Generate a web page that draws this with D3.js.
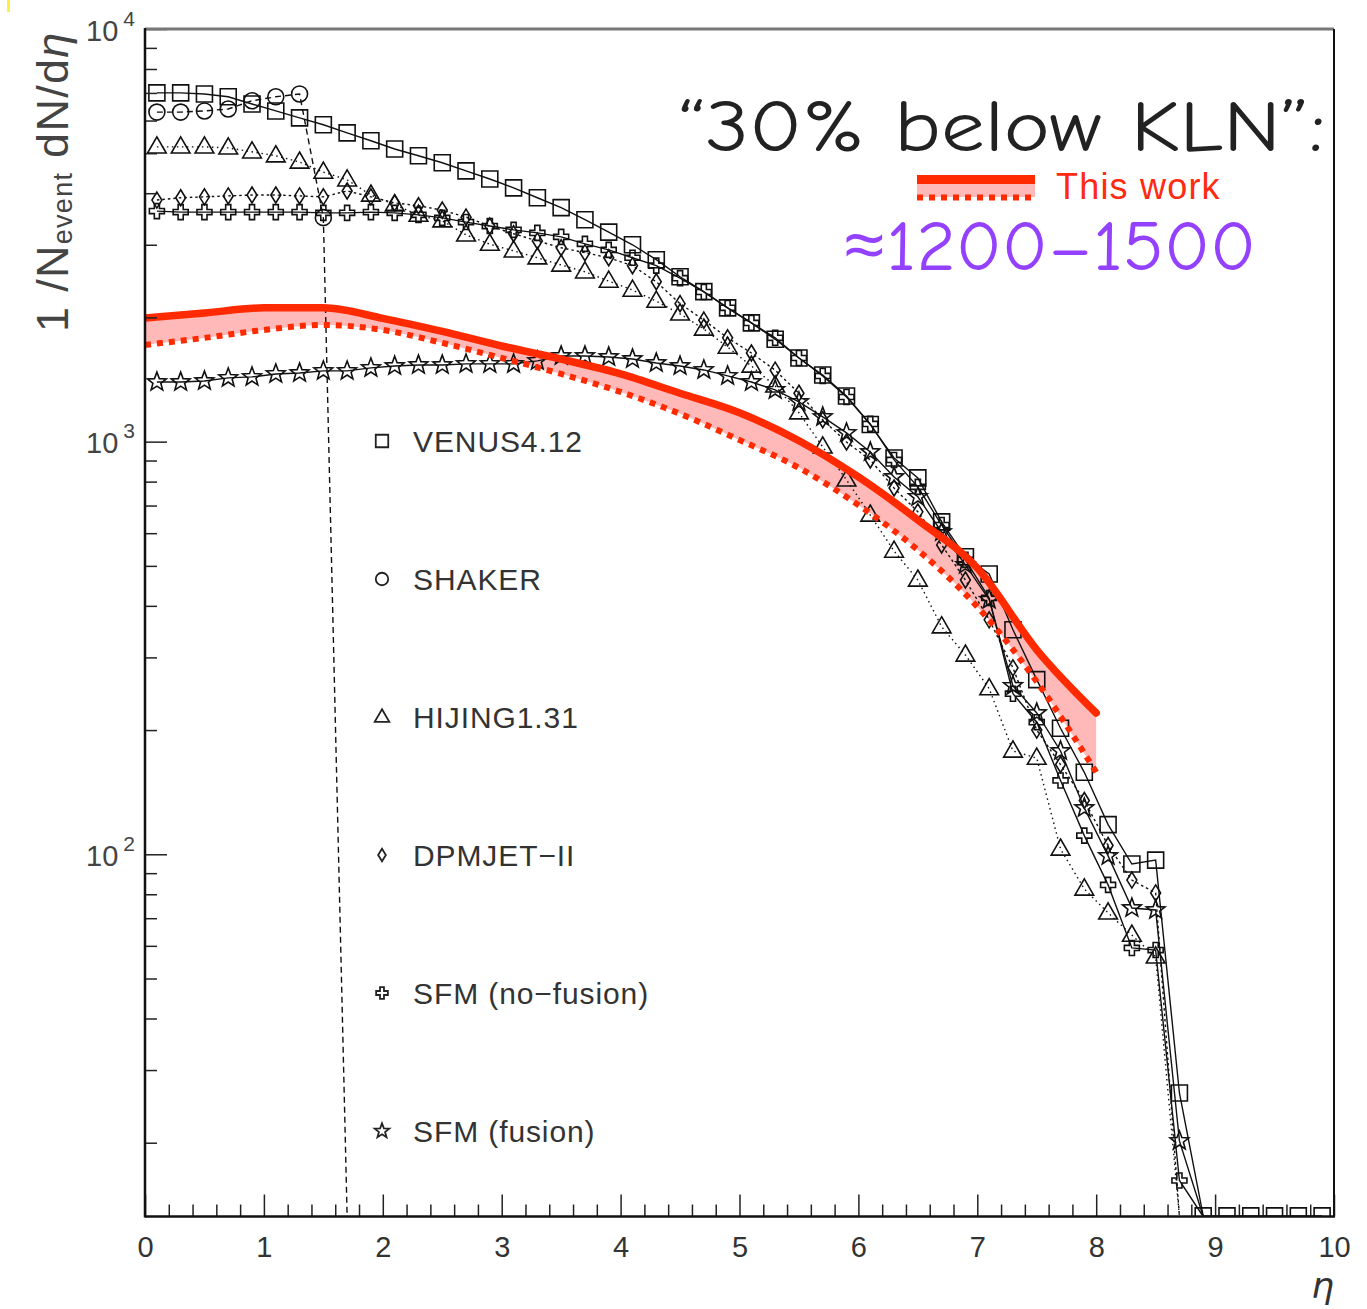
<!DOCTYPE html>
<html><head><meta charset="utf-8">
<script src="https://cdn.jsdelivr.net/npm/d3@7"></script>
<style>
html,body{margin:0;padding:0;background:#fff;}
svg{display:block;}
</style></head><body>
<svg id="chart" width="1367" height="1309"></svg>
<script>
// ---------------- DATA ----------------
// pseudorapidity bin centres (bins of width 0.2)
const etaBins = [0.1,0.3,0.5,0.7,0.9,1.1,1.3,1.5,1.7,1.9,2.1,2.3,2.5,2.7,2.9,3.1,3.3,3.5,3.7,3.9,
  4.1,4.3,4.5,4.7,4.9,5.1,5.3,5.5,5.7,5.9,6.1,6.3,6.5,6.7,6.9,7.1,7.3,7.5,7.7,7.9,
  8.1,8.3,8.5,8.7,8.9,9.1,9.3,9.5,9.7,9.9];

const venus = [7000,7000,6960,6850,6580,6330,6090,5860,5600,5360,5120,4930,4740,4530,4330,4120,3900,3690,3450,3220,
  3000,2760,2510,2310,2110,1940,1770,1595,1450,1290,1100,913,817,639,526,478,350,265,202,158,
  118,94.7,96.8,26.4,13.3,13.3,13.3,13.3,13.3,13.3];
const shaker = [6290,6290,6330,6400,6700,6850,6960,3490,0];
const hijing = [5180,5180,5180,5150,5040,4930,4760,4500,4310,3960,3750,3540,3430,3170,3010,2900,2790,2680,2580,2450,
  2330,2190,2040,1875,1695,1525,1365,1175,971,808,664,543,462,356,304,252,178,171,103,82.4,
  72.1,63.7,56.4,0];
const dpmjet = [3850,3900,3920,3940,3960,3960,3940,3920,4050,3920,3790,3730,3640,3500,3330,3190,3065,2950,2870,2790,
  2670,2440,2160,1970,1785,1640,1490,1310,1130,998,903,772,676,562,462,370,283,200,165,135,
  105,86.6,80.6,0];
const sfmNoFusion = [3620,3600,3600,3600,3600,3600,3600,3585,3585,3600,3585,3545,3485,3405,3330,3260,3205,3135,3015,2915,
  2790,2670,2490,2305,2110,1940,1785,1595,1443,1283,1104,903,777,628,517,418,245,209,151,111,
  84.3,59.3,58.6,16.2,0];
const sfmFusion = [1395,1395,1403,1427,1435,1459,1467,1484,1484,1509,1525,1534,1534,1543,1543,1543,1569,1613,1613,1604,
  1586,1551,1525,1492,1443,1395,1335,1248,1148,1050,944,821,735,604,503,414,256,220,178,129.5,
  99.1,74.1,73.3,20.2,0];

// "This work" band
const bandEta   = [0,0.5,1,1.5,2,2.5,3,3.5,4,4.5,5,5.5,6,6.5,7,7.5,8];
const bandUpper = [1994,2050,2110,2110,1990,1850,1705,1585,1460,1310,1175,1005,821,646,494,313,220];
const bandLower = [1716,1784,1865,1918,1865,1735,1595,1459,1320,1168,1009,864,702,546,398,262,158];

const seriesNames = ["VENUS4.12","SHAKER","HIJING1.31","DPMJET\u2212II","SFM (no\u2212fusion)","SFM (fusion)"];
const xTickLabels = ["0","1","2","3","4","5","6","7","8","9","10"];
const yMajorTicks = [100,1000,10000];
const yExponents = ["2","3","4"];

// ---------------- LAYOUT ----------------
const FONT = "'Liberation Sans', Arial, Helvetica, sans-serif";
const HAND = "'Comic Sans MS','Comic Neue','Noto Sans','Open Sans',sans-serif";
const plot = {left:145, right:1334, top:29, bottom:1216.5};
const yMin = 13.25, yMax = 10000;
const svg = d3.select("#chart");

const x = d3.scaleLinear().domain([0,10]).range([plot.left, plot.right]);
const y = d3.scaleLog().domain([yMin, yMax]).range([plot.bottom, plot.top]);
const yc = v => y(Math.max(v, yMin));

svg.append("rect").attr("width",1367).attr("height",1309).attr("fill","#fff");
// small yellow mark at the very top-left corner of the original picture
svg.append("rect").attr("x",7).attr("y",0).attr("width",3).attr("height",12).attr("fill","#ffee44");

svg.append("defs").append("clipPath").attr("id","plotclip")
  .append("rect").attr("x",plot.left).attr("y",plot.top)
  .attr("width",plot.right-plot.left).attr("height",plot.bottom-plot.top);

// ---------------- MARKERS ----------------
function markerPath(type, s){
  const h = s/2;
  switch(type){
    case "square": return `M${-h},${-h}h${s}v${s}h${-s}Z`;
    case "triangle": { const w=s*1.1, t=s*0.95; return `M0,${-t*0.62}L${w/2},${t*0.38}L${-w/2},${t*0.38}Z`; }
    case "diamond": { const w=s*0.62, t=s*1.0; return `M0,${-t/2}L${w/2},0L0,${t/2}L${-w/2},0Z`; }
    case "cross": { const a=s*0.17, b=h; return `M${-a},${-b}H${a}V${-a}H${b}V${a}H${a}V${b}H${-a}V${a}H${-b}V${-a}H${-a}Z`; }
    case "star": {
      const R=s*0.58, r=R*0.42; let p="";
      for(let i=0;i<10;i++){ const ang=-Math.PI/2 + i*Math.PI/5; const rr=i%2?r:R;
        p += (i?"L":"M") + (rr*Math.cos(ang)).toFixed(2)+","+(rr*Math.sin(ang)).toFixed(2); }
      return p+"Z";
    }
    case "circle": return d3.arc()({innerRadius:0,outerRadius:h,startAngle:0,endAngle:2*Math.PI});
  }
}

const series = [
  {name:seriesNames[0], vals:venus,       marker:"square",   size:16, dash:null},
  {name:seriesNames[1], vals:shaker,      marker:"circle",   size:16, dash:"6,4"},
  {name:seriesNames[2], vals:hijing,      marker:"triangle", size:17, dash:"1.5,3.5"},
  {name:seriesNames[3], vals:dpmjet,      marker:"diamond",  size:16, dash:"2.5,3"},
  {name:seriesNames[4], vals:sfmNoFusion, marker:"cross",    size:15, dash:null},
  {name:seriesNames[5], vals:sfmFusion,   marker:"star",     size:17, dash:null}
];

// ---------------- BAND FILL ----------------
const bandData = bandEta.map((e,i)=>({e, hi:bandUpper[i], lo:bandLower[i]}));
const gPlot = svg.append("g").attr("clip-path","url(#plotclip)");
gPlot.append("path").datum(bandData)
  .attr("d", d3.area().x(d=>x(d.e)).y0(d=>yc(d.lo)).y1(d=>yc(d.hi)).curve(d3.curveMonotoneX))
  .attr("fill","#ffb9b9");

// ---------------- MODEL SERIES ----------------
series.forEach(s=>{
  const pts = s.vals.map((v,i)=>({e:etaBins[i], v}));
  gPlot.append("path").datum(pts)
    .attr("d", d3.line().x(d=>x(d.e)).y(d=>yc(d.v)))
    .attr("fill","none").attr("stroke","#111").attr("stroke-width",1.4)
    .attr("stroke-dasharray", s.dash);
  gPlot.selectAll(null).data(pts.filter(d=>d.v>0)).enter().append("path")
    .attr("d", markerPath(s.marker, s.size))
    .attr("transform", d=>`translate(${x(d.e)},${yc(d.v)})`)
    .attr("fill","none").attr("stroke","#111").attr("stroke-width",1.6);
});

// ---------------- BAND LINES ----------------
gPlot.append("path").datum(bandData)
  .attr("d", d3.line().x(d=>x(d.e)).y(d=>yc(d.lo)).curve(d3.curveMonotoneX))
  .attr("fill","none").attr("stroke","#ff2a00").attr("stroke-width",6).attr("stroke-dasharray","6,6");
gPlot.append("path").datum(bandData)
  .attr("d", d3.line().x(d=>x(d.e)).y(d=>yc(d.hi)).curve(d3.curveMonotoneX))
  .attr("fill","none").attr("stroke","#ff2a00").attr("stroke-width",7.5).attr("stroke-linecap","round");

// ---------------- AXES ----------------
const xAxisMajor = d3.axisBottom(x).tickValues(xTickLabels.map(Number)).tickSize(-22).tickPadding(20)
  .tickFormat((d,i)=>xTickLabels[i]);
const gx = svg.append("g").attr("transform",`translate(0,${plot.bottom})`).call(xAxisMajor);
gx.select(".domain").remove();
gx.selectAll("line").attr("stroke","#222").attr("stroke-width",1.5);
gx.selectAll("text").attr("font-family",FONT).attr("font-size",29).attr("fill","#333");

const xMinorVals = [];
xTickLabels.map(Number).forEach(t=>{ [0.2,0.4,0.6,0.8].forEach(f=>{ if(t+f<10) xMinorVals.push(+(t+f).toFixed(1)); }); });
const gxm = svg.append("g").attr("transform",`translate(0,${plot.bottom})`)
  .call(d3.axisBottom(x).tickValues(xMinorVals).tickSize(-12).tickFormat(""));
gxm.select(".domain").remove();
gxm.selectAll("line").attr("stroke","#222").attr("stroke-width",1.5);

const gy = svg.append("g").attr("transform",`translate(${plot.left},0)`)
  .call(d3.axisLeft(y).tickValues(yMajorTicks).tickSize(-22).tickPadding(10).tickFormat(""));
gy.select(".domain").remove();
gy.selectAll("line").attr("stroke","#222").attr("stroke-width",1.5);
gy.selectAll("text").each(function(d,i){
  const t = d3.select(this).attr("font-family",FONT).attr("fill","#444").attr("dy",null).attr("y",11);
  t.append("tspan").attr("font-size",29).text("10");
  t.append("tspan").attr("font-size",21).attr("dx",5).attr("dy",-15).text(yExponents[i]);
});

const yMinorVals = [];
[10,100,1000].forEach(dec=>{ for(let k=2;k<=9;k++){ const v=k*dec; if(v>yMin && v<yMax) yMinorVals.push(v);} });
const gym = svg.append("g").attr("transform",`translate(${plot.left},0)`)
  .call(d3.axisLeft(y).tickValues(yMinorVals).tickSize(-12).tickFormat(""));
gym.select(".domain").remove();
gym.selectAll("line").attr("stroke","#222").attr("stroke-width",1.5);

// frame
svg.append("line").attr("x1",plot.left).attr("x2",plot.right).attr("y1",plot.top).attr("y2",plot.top)
  .attr("stroke","#777").attr("stroke-width",3);
svg.append("line").attr("x1",plot.right).attr("x2",plot.right).attr("y1",plot.top).attr("y2",plot.bottom)
  .attr("stroke","#111").attr("stroke-width",2);
svg.append("line").attr("x1",plot.left).attr("x2",plot.left).attr("y1",plot.top-1).attr("y2",plot.bottom+1)
  .attr("stroke","#111").attr("stroke-width",2.5);
svg.append("line").attr("x1",plot.left).attr("x2",plot.right+1).attr("y1",plot.bottom).attr("y2",plot.bottom)
  .attr("stroke","#111").attr("stroke-width",2.5);

// axis titles
svg.append("text").attr("x",plot.right).attr("y",1298).attr("text-anchor","end")
  .attr("font-family","'DejaVu Sans', "+FONT).attr("font-style","italic").attr("font-size",36).attr("fill","#333").text("\u03b7");

const yt = svg.append("text").attr("transform","translate(68,332) rotate(-90)")
  .attr("font-family",FONT).attr("fill","#444").attr("letter-spacing",1.3);
yt.append("tspan").attr("font-size",45).text("1 /N");
yt.append("tspan").attr("font-size",27).attr("dy",4).text("event");
yt.append("tspan").attr("font-size",45).attr("dy",-4).text(" dN/d");
yt.append("tspan").attr("font-size",45).attr("font-style","italic").text("\u03b7");

// ---------------- LEGEND ----------------
const legTop = 441, legStep = 138, legMarkX = 382, legTextX = 413;
series.forEach((s,i)=>{
  const cy = legTop + i*legStep;
  svg.append("path").attr("d", markerPath(s.marker, s.size*0.78))
    .attr("transform",`translate(${legMarkX},${cy})`)
    .attr("fill","none").attr("stroke","#222").attr("stroke-width",1.8);
  svg.append("text").attr("x",legTextX).attr("y",cy+11)
    .attr("font-family",FONT).attr("font-size",30).attr("letter-spacing",0.9).attr("fill","#333").text(s.name);
});

// ---------------- ANNOTATIONS ----------------
svg.append("text").attr("x",678).attr("y",151)
  .attr("font-family",HAND).attr("font-size",72)
  .attr("textLength",647).attr("lengthAdjust","spacingAndGlyphs")
  .attr("fill","#222").text("\u201c30% below KLN\u201d:");

// "This work" swatch
svg.append("rect").attr("x",917).attr("y",180).attr("width",118).attr("height",17).attr("fill","#ffb9b9");
svg.append("line").attr("x1",917).attr("x2",1035).attr("y1",179.5).attr("y2",179.5)
  .attr("stroke","#ff2a00").attr("stroke-width",9);
svg.append("line").attr("x1",917).attr("x2",1035).attr("y1",197.5).attr("y2",197.5)
  .attr("stroke","#ff2a00").attr("stroke-width",6).attr("stroke-dasharray","6,6");
svg.append("text").attr("x",1056).attr("y",199)
  .attr("font-family",FONT).attr("font-size",36).attr("letter-spacing",1.2).attr("fill","#ff2a10").text("This work");

svg.append("text").attr("x",843).attr("y",270)
  .attr("font-family",HAND).attr("font-size",70)
  .attr("textLength",413).attr("lengthAdjust","spacingAndGlyphs")
  .attr("fill","#9440ff").text("\u22481200\u20131500");
</script>
</body></html>
